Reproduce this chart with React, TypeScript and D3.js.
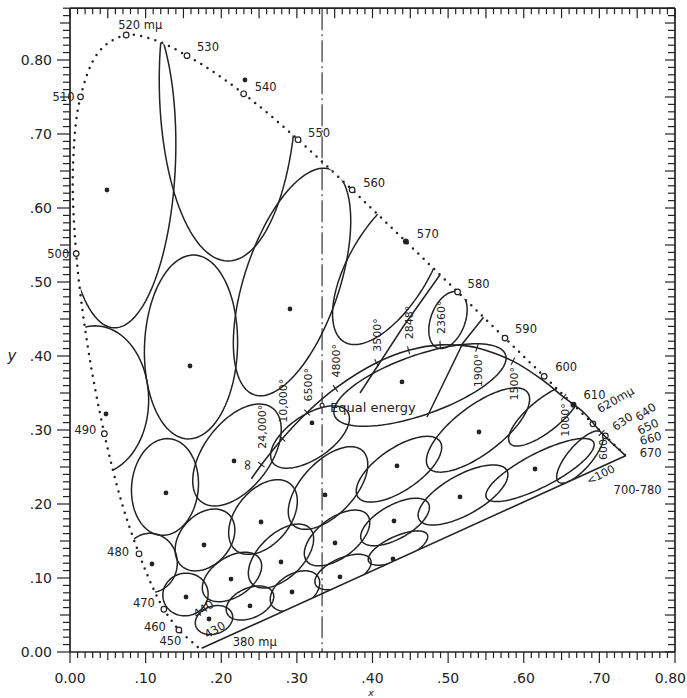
import React from "react";
import * as d3 from "d3";

const WIDTH = 687;
const HEIGHT = 698;

// CIE 1931 spectrum locus: wavelength (mμ), x, y
const locusNm = [380, 390, 400, 410, 420, 430, 440, 450, 460, 470, 475, 480, 485, 490, 495, 500, 505, 510, 515, 520, 525, 530, 535, 540, 545, 550, 555, 560, 565, 570, 575, 580, 585, 590, 595, 600, 605, 610, 620, 630, 640, 650, 660, 670, 700];
const locusX = [0.1741, 0.1738, 0.1733, 0.1726, 0.1714, 0.1689, 0.1644, 0.1566, 0.144, 0.1241, 0.1096, 0.0913, 0.0687, 0.0454, 0.0235, 0.0082, 0.0039, 0.0139, 0.0389, 0.0743, 0.1142, 0.1547, 0.1929, 0.2296, 0.2658, 0.3016, 0.3373, 0.3731, 0.4087, 0.4441, 0.4788, 0.5125, 0.5448, 0.5752, 0.6029, 0.627, 0.6482, 0.6658, 0.6915, 0.7079, 0.719, 0.726, 0.73, 0.7334, 0.7347];
const locusY = [0.005, 0.0049, 0.0048, 0.0048, 0.0051, 0.0069, 0.0109, 0.0177, 0.0297, 0.0578, 0.0868, 0.1327, 0.2007, 0.295, 0.4127, 0.5384, 0.6548, 0.7502, 0.812, 0.8338, 0.8262, 0.8059, 0.7816, 0.7543, 0.7243, 0.6923, 0.6589, 0.6245, 0.5896, 0.5547, 0.5202, 0.4866, 0.4544, 0.4242, 0.3965, 0.3725, 0.3514, 0.334, 0.3083, 0.292, 0.2809, 0.274, 0.27, 0.2666, 0.2653];

// wavelength labels
const wlLabelNm = [380, 430, 440, 450, 460, 470, 480, 490, 500, 510, 520, 530, 540, 550, 560, 570, 580, 590, 600, 610, 620, 630, 640, 650, 660, 670, 700];
const wlLabelText = ["380 mμ", "430", "440", "450", "460", "470", "480", "490", "500", "510", "520 mμ", "530", "540", "550", "560", "570", "580", "590", "600", "610", "620mμ", "630", "640", "650", "660", "670", "700-780"];
const openMarkerNm = [460, 470, 480, 490, 500, 510, 520, 530, 540, 550, 560, 580, 590, 600, 620, 630];
const filledMarkerNm = [570, 610];

// Planckian (black-body) locus
const planckLabel = ["∞", "24,000°", "10,000°", "6500°", "4800°", "3500°", "2848°", "2360°", "", "1900°", "1500°", "", "1000°", "", "600", "<100"];
const planckX = [0.2399, 0.2531, 0.2807, 0.3135, 0.3509, 0.4053, 0.4477, 0.4895, 0.5269, 0.5382, 0.5857, 0.6251, 0.6528, 0.68, 0.703, 0.7347];
const planckY = [0.2342, 0.2531, 0.2883, 0.3237, 0.3562, 0.3908, 0.4077, 0.415, 0.4133, 0.4111, 0.3931, 0.3674, 0.3444, 0.323, 0.296, 0.2653];

// color-region ellipses: [centre x, centre y, semi-major, semi-minor, angle deg]
const ellipses: [number, number, number, number, number][] = [
  [0.0661, 0.6649, 0.227, 0.0735, 88],
  [0.2089, 0.773, 0.2447, 0.0909, 90],
  [0.16, 0.4122, 0.1243, 0.0615, 88],
  [0.0331, 0.3405, 0.1003, 0.0709, 90],
  [0.1256, 0.223, 0.0655, 0.0441, 85],
  [0.1058, 0.1203, 0.0401, 0.0361, 90],
  [0.1527, 0.0777, 0.0301, 0.0287, 20],
  [0.1904, 0.0432, 0.0254, 0.0187, 20],
  [0.1785, 0.1514, 0.0468, 0.0334, 50],
  [0.2552, 0.1824, 0.0575, 0.0361, 52],
  [0.2208, 0.2662, 0.0789, 0.0441, 54],
  [0.2936, 0.5, 0.1604, 0.0628, 72],
  [0.2142, 0.1014, 0.0441, 0.0267, 35],
  [0.238, 0.0662, 0.0334, 0.0201, 25],
  [0.2975, 0.0824, 0.0361, 0.0227, 33],
  [0.279, 0.1297, 0.0535, 0.0294, 45],
  [0.361, 0.1081, 0.0401, 0.0187, 25],
  [0.3531, 0.1541, 0.0508, 0.0267, 38],
  [0.3412, 0.2216, 0.068, 0.0354, 48],
  [0.3174, 0.2905, 0.0602, 0.0294, 35],
  [0.4337, 0.1405, 0.0428, 0.016, 25],
  [0.4298, 0.1757, 0.0508, 0.0227, 30],
  [0.435, 0.247, 0.066, 0.0285, 35],
  [0.5197, 0.2122, 0.0668, 0.0267, 30],
  [0.6215, 0.2459, 0.0802, 0.0227, 28],
  [0.5395, 0.3, 0.0829, 0.0321, 38],
  [0.4628, 0.3608, 0.1203, 0.0401, 20],
  [0.6281, 0.3203, 0.0602, 0.0214, 40],
  [0.6744, 0.2635, 0.0441, 0.016, 50],
  [0.4231, 0.523, 0.1203, 0.0535, 60],
  [0.4998, 0.4486, 0.0401, 0.0227, 70],
];

// region centre points
const centreX = [0.0489, 0.2314, 0.1587, 0.2909, 0.0476, 0.1269, 0.1084, 0.1534, 0.1838, 0.1772, 0.2526, 0.2169, 0.2129, 0.238, 0.2936, 0.279, 0.357, 0.3504, 0.3372, 0.32, 0.4271, 0.4284, 0.4324, 0.5157, 0.6149, 0.5408, 0.439];
const centreY = [0.6243, 0.773, 0.3865, 0.4635, 0.3216, 0.2149, 0.1189, 0.0743, 0.0446, 0.1446, 0.1757, 0.2581, 0.0986, 0.0622, 0.0811, 0.1216, 0.1014, 0.1473, 0.2122, 0.3095, 0.1257, 0.177, 0.2514, 0.2095, 0.2473, 0.2973, 0.3649];

// extra boundary lines
const boundaryLines: [number, number][][] = [
  [[0.5514, 0.4581], [0.5197, 0.4176], [0.4721, 0.3176]],
  [[0.4919, 0.5135], [0.4403, 0.4392], [0.3835, 0.35]],
];

const tickLabels = ["0.00", ".10", ".20", ".30", ".40", ".50", ".60", ".70", "0.80"];
const tickValues = [0, 0.1, 0.2, 0.3, 0.4, 0.5, 0.6, 0.7, 0.8];

// placement of wavelength labels (pixel offsets, style only)
const wlPlace: Record<number, [number, number, string, number]> = {
  380: [31, -6, "start", 0],
  430: [17, -17, "middle", -30],
  440: [9, -35, "middle", -35],
  450: [-7, 2, "end", 0],
  460: [-13, -3, "end", 0],
  470: [-9, -6, "end", 0],
  480: [-10, -2, "end", 0],
  490: [-8, -4, "end", 0],
  500: [-7, 0, "end", 0],
  510: [-6, 0, "end", 0],
  520: [-8, -10, "start", 0],
  530: [10, -9, "start", 0],
  540: [11, -7, "start", 0],
  550: [10, -7, "start", 0],
  560: [11, -7, "start", 0],
  570: [11, -8, "start", 0],
  580: [10, -8, "start", 0],
  590: [10, -9, "start", 0],
  600: [11, -9, "start", 0],
  610: [10, -10, "start", 0],
  620: [5, -14, "start", -30],
  630: [8, -8, "start", -35],
  640: [23, -26, "start", -35],
  650: [19, -18, "start", -25],
  660: [18, -11, "start", -15],
  670: [15, -2, "start", 0],
  700: [-12, 34, "start", 0],
};

const FONT = "DejaVu Sans, Verdana, sans-serif";
const INK = "#222";

export default function App() {
  const x = d3.scaleLinear().domain([0, 0.8]).range([70, 675]);
  const y = d3.scaleLinear().domain([0, 0.8]).range([652, 60]);
  const yTop = 0.87;

  const locusPts: [number, number][] = locusNm.map((_, i) => [locusX[i], locusY[i]]);
  const line = d3.line<[number, number]>().x((d) => x(d[0])).y((d) => y(d[1]));
  const gamut = line.curve(d3.curveLinearClosed)(locusPts) || "";
  const dotted = d3
    .line<[number, number]>()
    .x((d) => x(d[0]))
    .y((d) => y(d[1]))
    .curve(d3.curveCatmullRom.alpha(0.5))(locusPts.filter((_, i) => locusNm[i] >= 430)) || "";
  const purple = d3.line<[number, number]>().x((d) => x(d[0])).y((d) => y(d[1]))([
    locusPts[0],
    locusPts[locusPts.length - 1],
  ]) || "";

  const planckPts: [number, number][] = planckX.map((v, i) => [v, planckY[i]]);
  const planckPath = d3
    .line<[number, number]>()
    .x((d) => x(d[0]))
    .y((d) => y(d[1]))
    .curve(d3.curveCatmullRom.alpha(0.5))(planckPts) || "";

  const ellipsePath = (e: [number, number, number, number, number]) => {
    const [cx, cy, a, b, deg] = e;
    const phi = (deg * Math.PI) / 180;
    const pts: [number, number][] = d3.range(0, 360, 3).map((t) => {
      const r = (t * Math.PI) / 180;
      const ca = a * Math.cos(r);
      const sb = b * Math.sin(r);
      return [cx + ca * Math.cos(phi) - sb * Math.sin(phi), cy + ca * Math.sin(phi) + sb * Math.cos(phi)];
    });
    return d3.line<[number, number]>().x((d) => x(d[0])).y((d) => y(d[1])).curve(d3.curveLinearClosed)(pts) || "";
  };

  const nmIndex = (nm: number) => locusNm.indexOf(nm);
  const px = (nm: number) => x(locusX[nmIndex(nm)]);
  const py = (nm: number) => y(locusY[nmIndex(nm)]);

  const xl = x(0), xr = x(0.8), yb = y(0), yt = y(yTop);
  const xMinor = d3.range(0, 81);
  const yMinor = d3.range(0, 88);
  const tlen = (i: number, a: number, b: number, c: number) => (i % 10 === 0 ? c : i % 5 === 0 ? b : a);

  const planckTicks = planckPts.map((p, i) => {
    const prev = planckPts[Math.max(0, i - 1)];
    const next = planckPts[Math.min(planckPts.length - 1, i + 1)];
    const dx = x(next[0]) - x(prev[0]);
    const dy = y(next[1]) - y(prev[1]);
    const L = Math.hypot(dx, dy) || 1;
    return { px: x(p[0]), py: y(p[1]), nx: -dy / L, ny: dx / L };
  });

  return (
    <svg width={WIDTH} height={HEIGHT} style={{ position: "absolute", left: 0, top: 0, background: "#fff" }}>
      <defs>
        <clipPath id="gamut">
          <path d={gamut} />
        </clipPath>
      </defs>
      <rect width={WIDTH} height={HEIGHT} fill="#fff" />

      {/* frame */}
      <g stroke={INK} strokeWidth={1.7} fill="none">
        <line x1={xl} y1={yb} x2={xr} y2={yb} />
        <line x1={xl} y1={yt} x2={xr} y2={yt} />
        <line x1={xl} y1={yb} x2={xl} y2={yt} />
        <line x1={xr} y1={yb} x2={xr} y2={yt} />
      </g>
      <g stroke={INK} strokeWidth={1.2}>
        {xMinor.map((i) => (
          <line key={"xb" + i} x1={x(i / 100)} x2={x(i / 100)} y1={yb} y2={yb + tlen(i, 6, 8, 11)} />
        ))}
        {xMinor.map((i) => (
          <line key={"xt" + i} x1={x(i / 100)} x2={x(i / 100)} y1={yt} y2={yt + tlen(i, 6, 10, 10)} />
        ))}
        {yMinor.map((i) => (
          <line key={"yl" + i} x1={xl} x2={xl - tlen(i, 7, 10, 13)} y1={y(i / 100)} y2={y(i / 100)} />
        ))}
        {yMinor.map((i) => (
          <line key={"yr" + i} x1={xr} x2={xr - tlen(i, 7, 10, 10)} y1={y(i / 100)} y2={y(i / 100)} />
        ))}
      </g>
      <g fontFamily={FONT} fontSize={14} fill={INK}>
        {tickValues.map((v, i) => (
          <text key={"xtl" + i} x={i === tickValues.length - 1 ? 686 : x(v)} y={683} textAnchor={i === tickValues.length - 1 ? "end" : "middle"}>
            {tickLabels[i]}
          </text>
        ))}
        {tickValues.map((v, i) => (
          <text key={"ytl" + i} x={52} y={y(v)} dy="0.36em" textAnchor="end">
            {tickLabels[i]}
          </text>
        ))}
        <text x={12} y={y(0.4)} dy="0.36em" fontStyle="italic" fontSize={15} textAnchor="middle">
          y
        </text>
        <text x={371} y={695.5} fontStyle="italic" fontSize={9.5} textAnchor="middle">
          x
        </text>
      </g>

      {/* equal-energy vertical dash-dot line */}
      <line x1={x(1 / 3)} x2={x(1 / 3)} y1={yt} y2={yb} stroke={INK} strokeWidth={1.1} strokeDasharray="22 4 2 4" />

      {/* ellipses */}
      <g clipPath="url(#gamut)" fill="none" stroke={INK} strokeWidth={1.5}>
        {ellipses.map((e, i) => (
          <path key={"el" + i} d={ellipsePath(e)} />
        ))}
        {boundaryLines.map((bl, i) => (
          <path key={"bl" + i} d={line.curve(d3.curveLinear)(bl) || ""} />
        ))}
      </g>

      {/* centre dots */}
      <g fill={INK}>
        {centreX.map((v, i) => (
          <circle key={"c" + i} cx={x(v)} cy={y(centreY[i])} r={2.4} />
        ))}
      </g>

      {/* spectrum locus */}
      <path d={dotted} fill="none" stroke={INK} strokeWidth={2.5} strokeLinecap="round" strokeDasharray="0 7.4" />
      <path d={purple} fill="none" stroke={INK} strokeWidth={1.6} />
      {openMarkerNm.map((nm) => (
        <circle key={"om" + nm} cx={px(nm)} cy={py(nm)} r={2.8} fill="#fff" stroke={INK} strokeWidth={1.2} />
      ))}
      {filledMarkerNm.map((nm) => (
        <circle key={"fm" + nm} cx={px(nm)} cy={py(nm)} r={3} fill={INK} />
      ))}

      {/* Planckian locus */}
      <path d={planckPath} fill="none" stroke={INK} strokeWidth={1.6} />
      <g stroke={INK} strokeWidth={1.1}>
        {planckTicks.map((t, i) =>
          planckLabel[i] && i > 0 && i < planckLabel.length - 1 ? (
            <line key={"pt" + i} x1={t.px - t.nx * 4} y1={t.py - t.ny * 4} x2={t.px + t.nx * 4} y2={t.py + t.ny * 4} />
          ) : null
        )}
      </g>
      <g fontFamily={FONT} fontSize={11} fill={INK}>
        {planckTicks.map((t, i) => {
          const lab = planckLabel[i];
          if (!lab) return null;
          if (i === 0) {
            return (
              <text key={"pl" + i} transform={`translate(${t.px - 5},${t.py - 14}) rotate(-90)`} textAnchor="middle" dy="0.35em" fontSize={15}>
                {lab}
              </text>
            );
          }
          if (i === planckLabel.length - 1) {
            return (
              <text key={"pl" + i} transform={`translate(${t.px - 25},${t.py + 19}) rotate(-27)`} textAnchor="middle" dy="0.35em">
                {lab}
              </text>
            );
          }
          const above = planckX[i] < 0.5;
          const gap = above ? (lab.length > 6 ? 16 : 11) : 6;
          const tx = t.px + 1;
          const ty = above ? t.py - gap : t.py + gap;
          return (
            <text key={"pl" + i} transform={`translate(${tx},${ty}) rotate(-90)`} textAnchor={above ? "start" : "end"} dy="0.35em">
              {lab}
            </text>
          );
        })}
      </g>

      {/* equal energy */}
      <circle cx={x(1 / 3)} cy={y(1 / 3)} r={2} fill="#fff" stroke={INK} strokeWidth={1.1} />
      <text x={x(1 / 3) + 8} y={y(1 / 3) + 2} dy="0.35em" fontFamily={FONT} fontSize={13} fill={INK}>
        Equal energy
      </text>

      {/* wavelength labels */}
      <g fontFamily={FONT} fontSize={11.5} fill={INK}>
        {wlLabelNm.map((nm, i) => {
          const [dx, dy, anchor, rot] = wlPlace[nm];
          return (
            <text
              key={"wl" + nm}
              transform={`translate(${px(nm) + dx},${py(nm) + dy}) rotate(${rot})`}
              textAnchor={anchor}
              dy="0.35em"
            >
              {wlLabelText[i]}
            </text>
          );
        })}
      </g>
    </svg>
  );
}
